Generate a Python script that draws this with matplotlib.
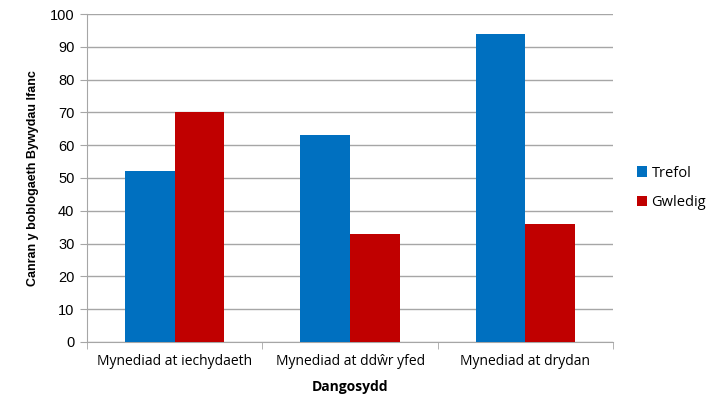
import numpy as np
import matplotlib.pyplot as plt

# access indicators, urban vs rural
categories = ["Mynediad at iechydaeth", "Mynediad at ddŵr yfed", "Mynediad at drydan"]
trefol = [52, 63, 94]
gwledig = [70, 33, 36]
series_names = ["Trefol", "Gwledig"]
yticks = list(range(0, 101, 10))

fig = plt.figure(figsize=(7.13, 4.05), dpi=100)
ax = fig.add_axes([0.122, 0.156, 0.738, 0.809])

x = np.arange(len(categories))
w = 0.283
ax.bar(x - w/2, trefol, w, color="#0070C0", label=series_names[0], zorder=3)
ax.bar(x + w/2, gwledig, w, color="#C00000", label=series_names[1], zorder=3)

ax.set_xlim(-0.5, len(categories) - 0.5)
ax.set_ylim(0, 100)
ax.set_yticks(yticks)
ax.set_yticklabels([str(v) for v in yticks], fontsize=10.5, family="Liberation Sans")
ax.yaxis.grid(True, color="#a6a6a6", linewidth=1, zorder=0)

# category labels centred, tick marks between groups
ax.set_xticks(x)
ax.set_xticklabels(categories, fontsize=10, family="Open Sans")
ax.tick_params(axis="x", length=0, pad=9)
ax.set_xticks(np.arange(len(categories) + 1) - 0.5, minor=True)
ax.tick_params(axis="x", which="minor", length=5, color="#a6a6a6")
ax.tick_params(axis="y", length=5, color="#a6a6a6", pad=4)

for s in ["top", "right"]:
    ax.spines[s].set_visible(False)
for s in ["left", "bottom"]:
    ax.spines[s].set_color("#a6a6a6")

ax.set_xlabel("Dangosydd", fontsize=10, family="Open Sans", fontweight="bold", labelpad=8)
ax.set_ylabel("Canran y boblogaeth Bywydau Ifanc", fontsize=9, family="Liberation Sans",
              fontweight="bold", labelpad=8)

ax.legend(loc="center left", bbox_to_anchor=(1.02, 0.47), frameon=False,
          handlelength=0.7, handleheight=0.7, handletextpad=0.3, labelspacing=1.0,
          prop={"family": "Open Sans", "size": 10.5})

fig.savefig("out.png", dpi=100)
